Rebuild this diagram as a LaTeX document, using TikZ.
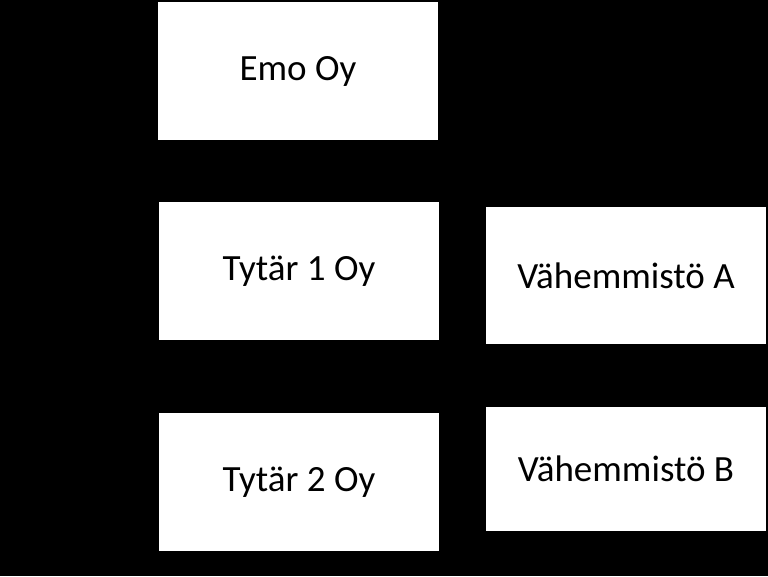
\documentclass[tikz,border=0pt]{standalone}
\usepackage{fontspec}
\setmainfont{Carlito}
\begin{document}
\begin{tikzpicture}[x=1pt,y=1pt,
  box/.style={fill=white,draw=none,inner sep=0pt,font=\fontsize{37}{44}\selectfont,text=black}]
\fill[black] (0,0) rectangle (768,576);
\useasboundingbox (0,0) rectangle (768,576);
\node[box,minimum width=280,minimum height=138] (emo) at (298,505) {Emo Oy};
\node[box,minimum width=280,minimum height=138] (t1) at (299,305) {Tytär 1 Oy};
\node[box,minimum width=280,minimum height=138] (t2) at (299,94) {Tytär 2 Oy};
\node[box,minimum width=280,minimum height=137] (va) at (626,300.5) {Vähemmistö A};
\node[box,minimum width=280,minimum height=124] (vb) at (626,107) {Vähemmistö B};
\end{tikzpicture}
\end{document}
